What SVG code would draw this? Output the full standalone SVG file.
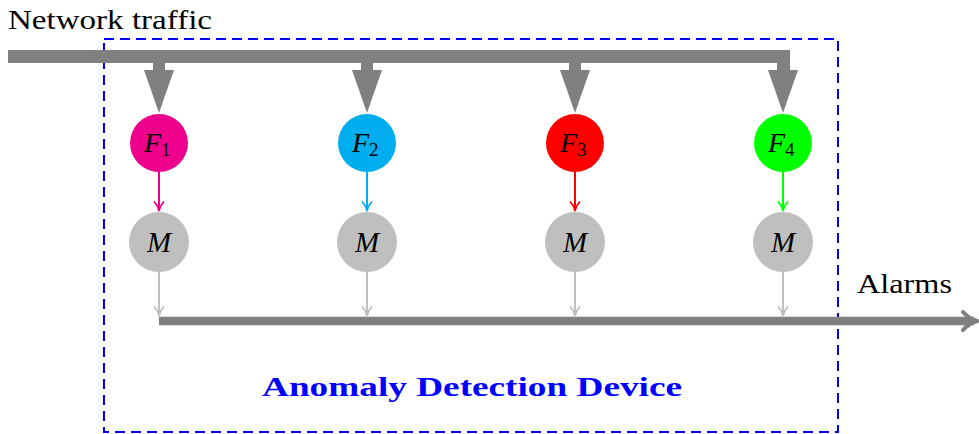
<svg xmlns="http://www.w3.org/2000/svg" width="979" height="434" viewBox="0 0 979 434">
<style>
.lbl{font-family:'Liberation Serif','Times New Roman',Times,serif;fill:#000}
.it{font-style:italic}
.bus{fill:none;stroke:#808080}
.drop{fill:#808080}
.gl{stroke:#BFBFBF;stroke-width:2;fill:none}
</style>
<rect width="979" height="434" fill="#fff"/>

<g id="device-box">
<rect x="104" y="39" width="734" height="393" fill="none" stroke="#0000FF" stroke-width="2" stroke-dasharray="10,6"/>
<text x="472" y="396" text-anchor="middle" font-family="'Liberation Serif','Times New Roman',Times,serif" font-weight="bold" font-size="28" fill="#0000FF" textLength="420" lengthAdjust="spacingAndGlyphs">Anomaly Detection Device</text>
</g>

<g id="connectors">
<path class="bus" d="M8,56.5 H783.5 V70" stroke-width="13"/>
<g class="drop">
<rect x="153" y="60" width="12" height="11"/>
<polygon points="144,70 174,70 159,113"/>
<rect x="361" y="60" width="12" height="11"/>
<polygon points="352,70 382,70 367,113"/>
<rect x="569" y="60" width="12" height="11"/>
<polygon points="560,70 590,70 575,113"/>
<polygon points="768,70 798,70 783,113"/>
</g>
<g stroke-width="2" fill="none">
<line x1="159" y1="172" x2="159" y2="211" stroke="#EC008C"/>
<path d="M154.5,202 Q158,206 159,211 Q160,206 163.5,202" stroke="#EC008C" stroke-width="1.8" stroke-linecap="round"/>
<line x1="367" y1="172" x2="367" y2="211" stroke="#00AEEF"/>
<path d="M362.5,202 Q366,206 367,211 Q368,206 371.5,202" stroke="#00AEEF" stroke-width="1.8" stroke-linecap="round"/>
<line x1="575" y1="172" x2="575" y2="211" stroke="#FF0000"/>
<path d="M570.5,202 Q574,206 575,211 Q576,206 579.5,202" stroke="#FF0000" stroke-width="1.8" stroke-linecap="round"/>
<line x1="783" y1="172" x2="783" y2="211" stroke="#00FF00"/>
<path d="M778.5,202 Q782,206 783,211 Q784,206 787.5,202" stroke="#00FF00" stroke-width="1.8" stroke-linecap="round"/>
</g>
<g class="gl">
<line x1="159" y1="272" x2="159" y2="316"/>
<path d="M154.5,307 Q158,311 159,316 Q160,311 163.5,307" stroke-width="1.8" stroke-linecap="round"/>
<line x1="367" y1="272" x2="367" y2="316"/>
<path d="M362.5,307 Q366,311 367,316 Q368,311 371.5,307" stroke-width="1.8" stroke-linecap="round"/>
<line x1="575" y1="272" x2="575" y2="316"/>
<path d="M570.5,307 Q574,311 575,316 Q576,311 579.5,307" stroke-width="1.8" stroke-linecap="round"/>
<line x1="783" y1="272" x2="783" y2="316"/>
<path d="M778.5,307 Q782,311 783,316 Q784,311 787.5,307" stroke-width="1.8" stroke-linecap="round"/>
</g>
<line x1="159" y1="321" x2="974" y2="321" stroke="#808080" stroke-width="8.5"/>
<path d="M963,312 Q968,318 977,321 Q968,324 963,330" fill="none" stroke="#808080" stroke-width="4" stroke-linecap="round"/>
</g>

<g id="label-network-traffic">
<text class="lbl" x="8" y="29" font-size="28" textLength="204" lengthAdjust="spacingAndGlyphs">Network traffic</text>
</g>
<g id="label-alarms">
<text class="lbl" x="857" y="293" font-size="28" textLength="95" lengthAdjust="spacingAndGlyphs">Alarms</text>
</g>

<g id="F1">
<circle cx="159" cy="143" r="29" fill="#EC008C"/>
<text class="lbl it" x="144" y="152" font-size="28">F<tspan font-size="19" font-style="normal" dy="4">1</tspan></text>
</g>
<g id="F2">
<circle cx="367" cy="143" r="29" fill="#00AEEF"/>
<text class="lbl it" x="352" y="152" font-size="28">F<tspan font-size="19" font-style="normal" dy="4">2</tspan></text>
</g>
<g id="F3">
<circle cx="575" cy="143" r="29" fill="#FF0000"/>
<text class="lbl it" x="560" y="152" font-size="28">F<tspan font-size="19" font-style="normal" dy="4">3</tspan></text>
</g>
<g id="F4">
<circle cx="783" cy="143" r="29" fill="#00FF00"/>
<text class="lbl it" x="768" y="152" font-size="28">F<tspan font-size="19" font-style="normal" dy="4">4</tspan></text>
</g>

<g id="M1">
<circle cx="159" cy="242" r="30" fill="#BFBFBF"/>
<text class="lbl it" x="159" y="252" font-size="29" text-anchor="middle">M</text>
</g>
<g id="M2">
<circle cx="367" cy="242" r="30" fill="#BFBFBF"/>
<text class="lbl it" x="367" y="252" font-size="29" text-anchor="middle">M</text>
</g>
<g id="M3">
<circle cx="575" cy="242" r="30" fill="#BFBFBF"/>
<text class="lbl it" x="575" y="252" font-size="29" text-anchor="middle">M</text>
</g>
<g id="M4">
<circle cx="783" cy="242" r="30" fill="#BFBFBF"/>
<text class="lbl it" x="783" y="252" font-size="29" text-anchor="middle">M</text>
</g>
</svg>
